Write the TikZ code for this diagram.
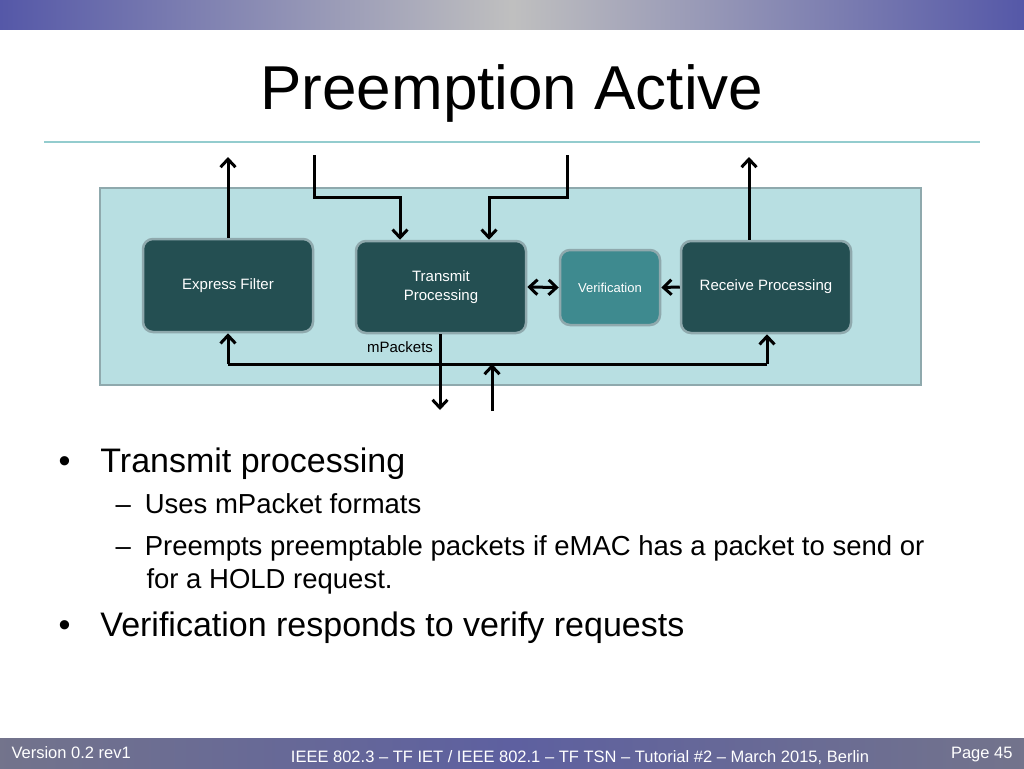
\documentclass[tikz,border=0pt]{standalone}
\usepackage{fontspec}
\setmainfont{Liberation Sans}
\usetikzlibrary{arrows.meta}
\definecolor{dark}{HTML}{244F52}
\definecolor{veri}{HTML}{3E8A8F}
\definecolor{panel}{HTML}{B8DFE2}
\definecolor{edge}{HTML}{8FA9AD}
\definecolor{ban}{HTML}{5558A8}
\begin{document}
\begin{tikzpicture}[x=1pt,y=-1pt,
 box/.style={draw=edge,line width=2.5pt,fill=dark,rounded corners=10pt,text=white,align=center,font=\fontsize{15}{19}\selectfont},
 ar/.style={line width=3pt,-{Straight Barb[length=8pt,width=15pt]}},
 ar2/.style={line width=3pt,{Straight Barb[length=8pt,width=15pt]}-{Straight Barb[length=8pt,width=15pt]}}]
\useasboundingbox (0,0) rectangle (1024,768);
\fill[white] (0,0) rectangle (1024,768);
% banner
\shade[left color=ban,right color=gray!50!white] (0,0) rectangle (512,30);
\shade[right color=ban,left color=gray!50!white] (512,0) rectangle (1024,30);
\node (title) at (512,93) {\fontsize{62}{64}\selectfont Preemption Active};
\draw[panel!80!teal,line width=1.2pt] (44,142) -- (980,142);
% panel
\draw[edge,line width=2.5pt,fill=panel] (100,188) rectangle (921,385);
\node[box,minimum width=170,minimum height=93] (ef) at (228,285.5) {Express Filter};
\node[box,minimum width=170,minimum height=92] (tp) at (441,287) {Transmit\\Processing};
\node[box,fill=veri,minimum width=100,minimum height=75,font=\fontsize{13}{15}\selectfont] (ve) at (610,287.5) {Verification};
\node[box,minimum width=170,minimum height=92] (rp) at (766,287) {Receive Processing};
% top arrows
\coordinate (e1) at (228,157);
\coordinate (r1) at (749,157);
\coordinate (i1) at (314,155);
\coordinate (i2) at (567,155);
\draw[ar] (ef.north) -- (e1);
\draw[ar] (rp.north -| r1) -- (r1);
\draw[ar] (i1) |- (400,197) -- (tp.north -| 400,0);
\draw[ar] (i2) |- (489,197) -- (tp.north -| 489,0);
\draw[ar2] (tp.east) -- (ve.west);
\draw[ar] (rp.west) -- (ve.east);
% bottom
\coordinate (bl) at (228,364);
\coordinate (br) at (767,364);
\draw[line width=3pt] (bl) -- (br);
\draw[ar] (bl) -- (ef.south);
\draw[ar] (br) -- (rp.south -| br);
\coordinate (o1) at (440,410);
\coordinate (o2) at (492,411);
\draw[ar] (tp.south -| o1) -- (o1);
\draw[ar] (o2) -- (492,364);
\node[font=\fontsize{15}{17}\selectfont] (mp) at (400,347) {mPackets};
% bullets
\node[anchor=base west,font=\fontsize{34}{38}\selectfont] (b1) at (55,472) {•\hspace{30pt}Transmit processing};
\node[anchor=base west,font=\fontsize{27.5}{30}\selectfont] (s1) at (112,513) {–\hspace{14pt}Uses mPacket formats};
\node[anchor=base west,font=\fontsize{27.5}{30}\selectfont] (s2) at (112,555) {–\hspace{14pt}Preempts preemptable packets if eMAC has a packet to send or};
\node[anchor=base west,font=\fontsize{27.5}{30}\selectfont] (s3) at (143,588) {for a HOLD request.};
\node[anchor=base west,font=\fontsize{34}{38}\selectfont] (b2) at (55,636) {•\hspace{30pt}Verification responds to verify requests};
% footer
\shade[left color=gray!70!ban,right color=gray!70!ban,middle color=ban!80!gray] (0,738) rectangle (1024,768);
\node[text=white,anchor=base west,font=\fontsize{16.5}{18}\selectfont] (v) at (8,758) {Version 0.2 rev1};
\node[text=white,anchor=base,font=\fontsize{16.5}{18}\selectfont] (f) at (580,762) {IEEE 802.3 – TF IET / IEEE 802.1 – TF TSN – Tutorial \#2 – March 2015, Berlin};
\node[text=white,anchor=base east,font=\fontsize{16.5}{18}\selectfont] (pg) at (1016,758) {Page 45};
\end{tikzpicture}
\end{document}
